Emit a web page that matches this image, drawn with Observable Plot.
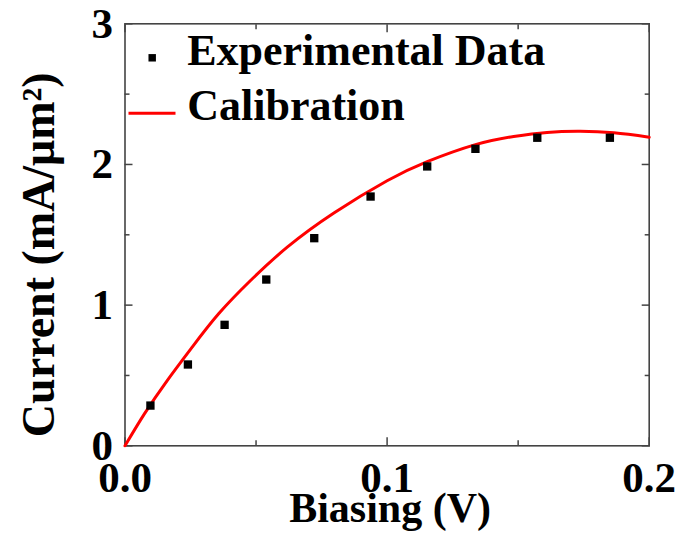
<!DOCTYPE html>
<html><head><meta charset="utf-8">
<script src="https://cdn.jsdelivr.net/npm/d3@7"></script>
<script src="https://cdn.jsdelivr.net/npm/@observablehq/plot@0.6"></script>
<style>body{margin:0;background:#fff}</style>
</head><body><div id="chart"></div>
<script>
const expX = [0.0097, 0.024, 0.038, 0.0539, 0.0722, 0.0937, 0.1153, 0.1337, 0.1573, 0.185];
const expY = [0.286, 0.578, 0.86, 1.182, 1.476, 1.772, 1.986, 2.111, 2.19, 2.19];
// Calibration curve
const calX = [0, 0.0074, 0.0161, 0.0256, 0.0358, 0.0479, 0.0619, 0.0797, 0.1000, 0.1153, 0.1337, 0.1483, 0.161, 0.1737, 0.1865, 0.2];
const calY = [0, 0.227, 0.464, 0.701, 0.940, 1.175, 1.412, 1.655, 1.884, 2.020, 2.141, 2.199, 2.228, 2.236, 2.225, 2.194];
// Ticks
const xMajor = [0, 0.1, 0.2];
const xMinor = [0.05, 0.15];
const yMajor = [0, 1, 2, 3];
const yMinor = [0.5, 1.5, 2.5];
const xTickLabels = ["0.0", "0.1", "0.2"];
const yTickLabels = ["0", "1", "2", "3"];
const legendLabels = ["Experimental Data", "Calibration"];
const xTitle = "Biasing (V)";
const yTitle = "Current (mA/μm²)";

const expData = expX.map((x, i) => ({x, y: expY[i]}));
const calData = calX.map((x, i) => ({x, y: calY[i]}));

const frameColor = "#444";
const font = "'Liberation Serif', 'Times New Roman', serif";

const lineSymbol = {
  draw(ctx, size) {
    const r = Math.sqrt(size / Math.PI);
    ctx.moveTo(-r, 0);
    ctx.lineTo(r, 0);
  }
};

const chart = Plot.plot({
  width: 676,
  height: 537,
  marginLeft: 124.5,
  marginRight: 27.3,
  marginTop: 23.3,
  marginBottom: 91.7,
  style: {background: "#fff", fontFamily: font, fontWeight: "bold", color: "#000"},
  x: {domain: [0, 0.2], nice: false},
  y: {domain: [0, 3], nice: false},
  marks: [
    // inward ticks (major)
    Plot.axisX({anchor: "bottom", ticks: xMajor, tickSize: 8, dy: -8, tickFormat: () => "", label: null, stroke: frameColor, strokeWidth: 1.5}),
    Plot.axisX({anchor: "top", ticks: xMajor, tickSize: 8, dy: 8, tickFormat: () => "", label: null, stroke: frameColor, strokeWidth: 1.5}),
    Plot.axisY({anchor: "left", ticks: yMajor, tickSize: 8, dx: 8, tickFormat: () => "", label: null, stroke: frameColor, strokeWidth: 1.5}),
    Plot.axisY({anchor: "right", ticks: yMajor, tickSize: 8, dx: -8, tickFormat: () => "", label: null, stroke: frameColor, strokeWidth: 1.5}),
    // inward ticks (minor)
    Plot.axisX({anchor: "bottom", ticks: xMinor, tickSize: 5, dy: -5, tickFormat: () => "", label: null, stroke: frameColor, strokeWidth: 1.5}),
    Plot.axisX({anchor: "top", ticks: xMinor, tickSize: 5, dy: 5, tickFormat: () => "", label: null, stroke: frameColor, strokeWidth: 1.5}),
    Plot.axisY({anchor: "left", ticks: yMinor, tickSize: 5, dx: 5, tickFormat: () => "", label: null, stroke: frameColor, strokeWidth: 1.5}),
    Plot.axisY({anchor: "right", ticks: yMinor, tickSize: 5, dx: -5, tickFormat: () => "", label: null, stroke: frameColor, strokeWidth: 1.5}),
    // tick labels
    Plot.axisX({anchor: "bottom", ticks: xMajor, tickSize: 0, tickPadding: 16, tickFormat: (d, i) => xTickLabels[i], label: null, fontSize: 43, fontWeight: "bold", fill: "#000"}),
    Plot.axisY({anchor: "left", ticks: yMajor, tickSize: 0, tickPadding: 12, tickFormat: (d, i) => yTickLabels[i], label: null, fontSize: 43, fontWeight: "bold", fill: "#000"}),
    // frame
    Plot.frame({stroke: frameColor, strokeWidth: 1.6}),
    // calibration curve
    Plot.line(calData, {x: "x", y: "y", stroke: "#ff0000", strokeWidth: 3, curve: "natural"}),
    // experimental points
    Plot.dot(expData, {x: "x", y: "y", symbol: "square", r: 4.7, fill: "#000", stroke: "none"}),
    // legend
    Plot.dot([legendLabels[0]], {frameAnchor: "top-left", dx: 27.2, dy: 34, symbol: "square", r: 4.2, fill: "#000", stroke: "none"}),
    Plot.text([legendLabels[0]], {text: d => d, frameAnchor: "top-left", dx: 62.2, dy: 27.6, textAnchor: "start", lineAnchor: "middle", fontSize: 44, fontWeight: "bold", fill: "#000"}),
    Plot.dot([legendLabels[1]], {frameAnchor: "top-left", dx: 27, dy: 89.4, symbol: lineSymbol, r: 23.5, fill: "none", stroke: "#ff0000", strokeWidth: 3}),
    Plot.text([legendLabels[1]], {text: d => d, frameAnchor: "top-left", dx: 62.2, dy: 82.6, textAnchor: "start", lineAnchor: "middle", fontSize: 44, fontWeight: "bold", fill: "#000"}),
    // axis titles
    Plot.text([xTitle], {text: d => d, frameAnchor: "bottom", dx: 3, dy: 63, textAnchor: "middle", lineAnchor: "middle", fontSize: 42, fontWeight: "bold", fill: "#000"}),
    Plot.text([yTitle], {text: d => d, frameAnchor: "left", dx: -86.2, dy: 20, rotate: -90, textAnchor: "middle", lineAnchor: "middle", fontSize: 46, fontWeight: "bold", fill: "#000"})
  ]
});
document.getElementById("chart").appendChild(chart);
</script>
</body></html>
